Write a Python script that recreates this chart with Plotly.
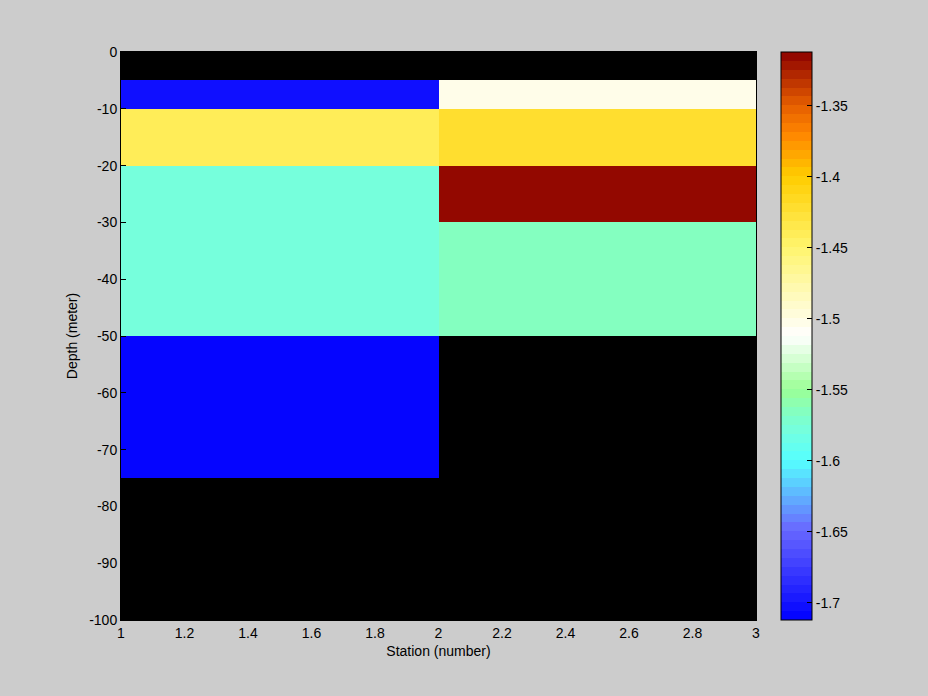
import numpy as np
import plotly.graph_objects as go

# Data
station_edges = [1, 2, 3]
depth_edges = [0, -5, -10, -20, -30, -50, -75, -100]
station1 = [None, -1.704, -1.440, -1.580, -1.580, -1.712, None]
station2 = [None, -1.500, -1.423, -1.312, -1.568, None, None]
x_ticks = [1, 1.2, 1.4, 1.6, 1.8, 2, 2.2, 2.4, 2.6, 2.8, 3]
y_ticks = [0, -10, -20, -30, -40, -50, -60, -70, -80, -90, -100]
cb_ticks = [-1.35, -1.4, -1.45, -1.5, -1.55, -1.6, -1.65, -1.7]
zmin, zmax = -1.712, -1.312

z = [[a if a is not None else np.nan, b if b is not None else np.nan]
     for a, b in zip(station1, station2)]

# Colormap anchors (style)
anchors = [
    (0.0, (0, 0, 255)),
    (0.16, (105, 105, 255)),
    (0.28, (85, 255, 255)),
    (0.33, (115, 255, 225)),
    (0.36, (128, 255, 200)),
    (0.405, (155, 255, 150)),
    (0.50, (255, 255, 255)),
    (0.655, (255, 245, 110)),
    (0.78, (255, 205, 0)),
    (0.855, (255, 135, 0)),
    (0.905, (230, 95, 0)),
    (1.0, (140, 0, 0)),
]
ap = [a[0] for a in anchors]
def col(p):
    return tuple(int(round(np.interp(p, ap, [a[1][k] for a in anchors]))) for k in range(3))

N = 64
colorscale = []
for i in range(N):
    c = "rgb(%d,%d,%d)" % col((i + 0.5) / N)
    colorscale.append([i / N, c])
    colorscale.append([(i + 1) / N, c])

font = dict(family="Liberation Sans, Arial, sans-serif", size=14, color="black")

fig = go.Figure(go.Heatmap(
    x=station_edges, y=depth_edges, z=z,
    colorscale=colorscale, zmin=zmin, zmax=zmax, zsmooth=False,
    hoverongaps=False,
    colorbar=dict(
        x=1 + 25 / 635, xanchor="left", xpad=0, ypad=0,
        y=0.5, yanchor="middle", len=1.0, lenmode="fraction",
        thickness=31, thicknessmode="pixels",
        outlinewidth=1, outlinecolor="black",
        tickvals=cb_ticks, ticktext=[str(t) for t in cb_ticks],
        ticks="inside", ticklen=5, tickcolor="black",
        tickfont=font,
    ),
))

fig.update_layout(
    width=928, height=696,
    paper_bgcolor="#cccccc", plot_bgcolor="black",
    margin=dict(l=121, r=172, t=52, b=76),
    font=font,
    showlegend=False,
    xaxis=dict(
        range=[1, 3], tickvals=x_ticks, ticktext=[("%g" % t) for t in x_ticks],
        ticks="inside", ticklen=5, tickcolor="black",
        showgrid=False, zeroline=False, showline=True, linecolor="black",
        mirror=True, title=dict(text="Station (number)", font=font, standoff=6),
        tickfont=font,
    ),
    yaxis=dict(
        range=[-100, 0], tickvals=y_ticks, ticktext=[("%g" % t) for t in y_ticks],
        ticks="inside", ticklen=5, tickcolor="black",
        showgrid=False, zeroline=False, showline=True, linecolor="black",
        mirror=True, title=dict(text="Depth (meter)", font=font, standoff=8),
        tickfont=font,
    ),
)

fig.write_html(
    "out.html",
    config={"displayModeBar": False},
    post_script="document.body.style.margin='0';document.body.style.padding='0';",
)
